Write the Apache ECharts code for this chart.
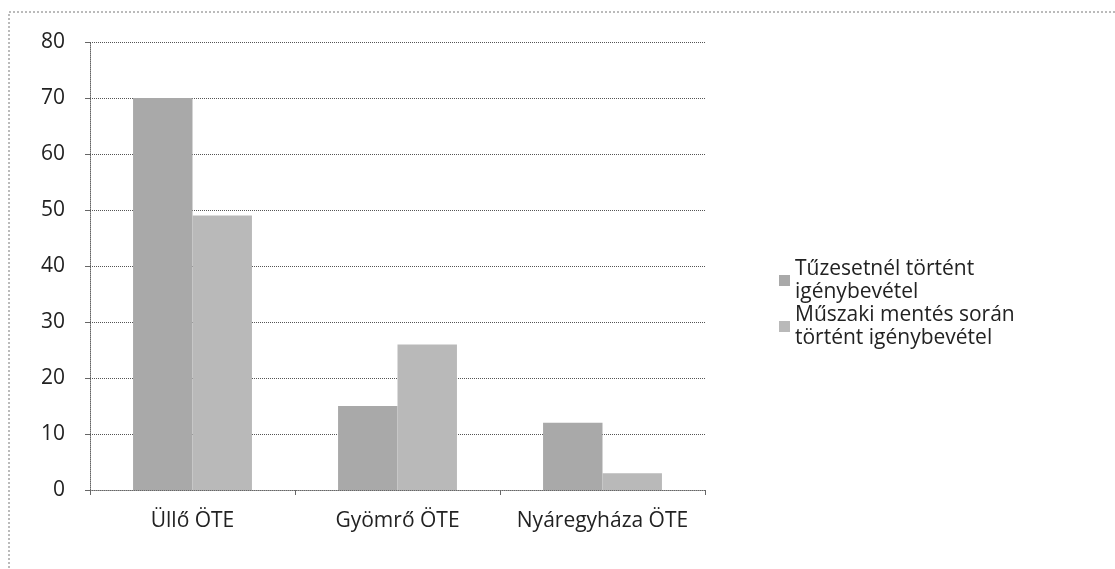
<!DOCTYPE html>
<html style="height: 100%">
  <head>
    <meta charset="utf-8" />
  </head>
  <body style="height: 100%; margin: 0; background: #fff">
    <div id="container" style="width: 1115px; height: 569px"></div>
    <script
      type="text/javascript"
      src="https://cdn.jsdelivr.net/npm/echarts@6.0.0/dist/echarts.min.js"
    ></script>

    <script type="text/javascript">
      var dom = document.getElementById("container");
      var myChart = echarts.init(dom);

      // adatok
      let categories = ["Üllő ÖTE", "Gyömrő ÖTE", "Nyáregyháza ÖTE"];
      let fireValues = [70, 15, 12];
      let rescueValues = [49, 26, 3];
      let seriesNames = [
        "Tűzesetnél történt\nigénybevétel",
        "Műszaki mentés során\ntörtént igénybevétel",
      ];

      let font = "'Open Sans', 'Noto Sans', sans-serif";

      let option = {
        animation: false,
        backgroundColor: "#fff",
        textStyle: { fontFamily: font },
        graphic: [
          {
            type: "rect",
            shape: { x: 9, y: 12, width: 1120, height: 570 },
            style: { fill: "none", stroke: "#777", lineWidth: 1, lineDash: [2, 2] },
            silent: true,
          },
        ],
        grid: { left: 90, right: 410, top: 42, bottom: 79 },
        legend: {
          orient: "vertical",
          left: 774,
          top: 241,
          itemWidth: 11,
          itemHeight: 11,
          itemGap: -23,
          icon: "rect",
          textStyle: {
            fontSize: 21,
            fontFamily: font,
            color: "#222",
            lineHeight: 23,
            padding: [23, 0, 0, 0],
          },
          data: seriesNames,
        },
        xAxis: {
          type: "category",
          data: categories,
          axisLine: { lineStyle: { color: "#666", type: "dotted" } },
          axisTick: { show: true, length: 5, lineStyle: { color: "#666" } },
          axisLabel: { fontSize: 21, color: "#222", margin: 21, interval: 0 },
        },
        yAxis: {
          type: "value",
          min: 0,
          max: 80,
          interval: 10,
          axisLine: { show: true, lineStyle: { color: "#666", type: "dotted" } },
          axisTick: { show: true, length: 5, lineStyle: { color: "#666" } },
          axisLabel: { fontSize: 21, color: "#222", margin: 25 },
          splitLine: { lineStyle: { color: "#555", type: "dotted" } },
        },
        series: [
          {
            name: seriesNames[0],
            type: "bar",
            data: fireValues,
            barGap: "0%",
            barCategoryGap: "42%",
            itemStyle: { color: "#a9a9a9" },
          },
          {
            name: seriesNames[1],
            type: "bar",
            data: rescueValues,
            barGap: "0%",
            barCategoryGap: "42%",
            itemStyle: { color: "#b9b9b9" },
          },
        ],
      };

      myChart.setOption(option);
    </script>
  </body>
</html>
